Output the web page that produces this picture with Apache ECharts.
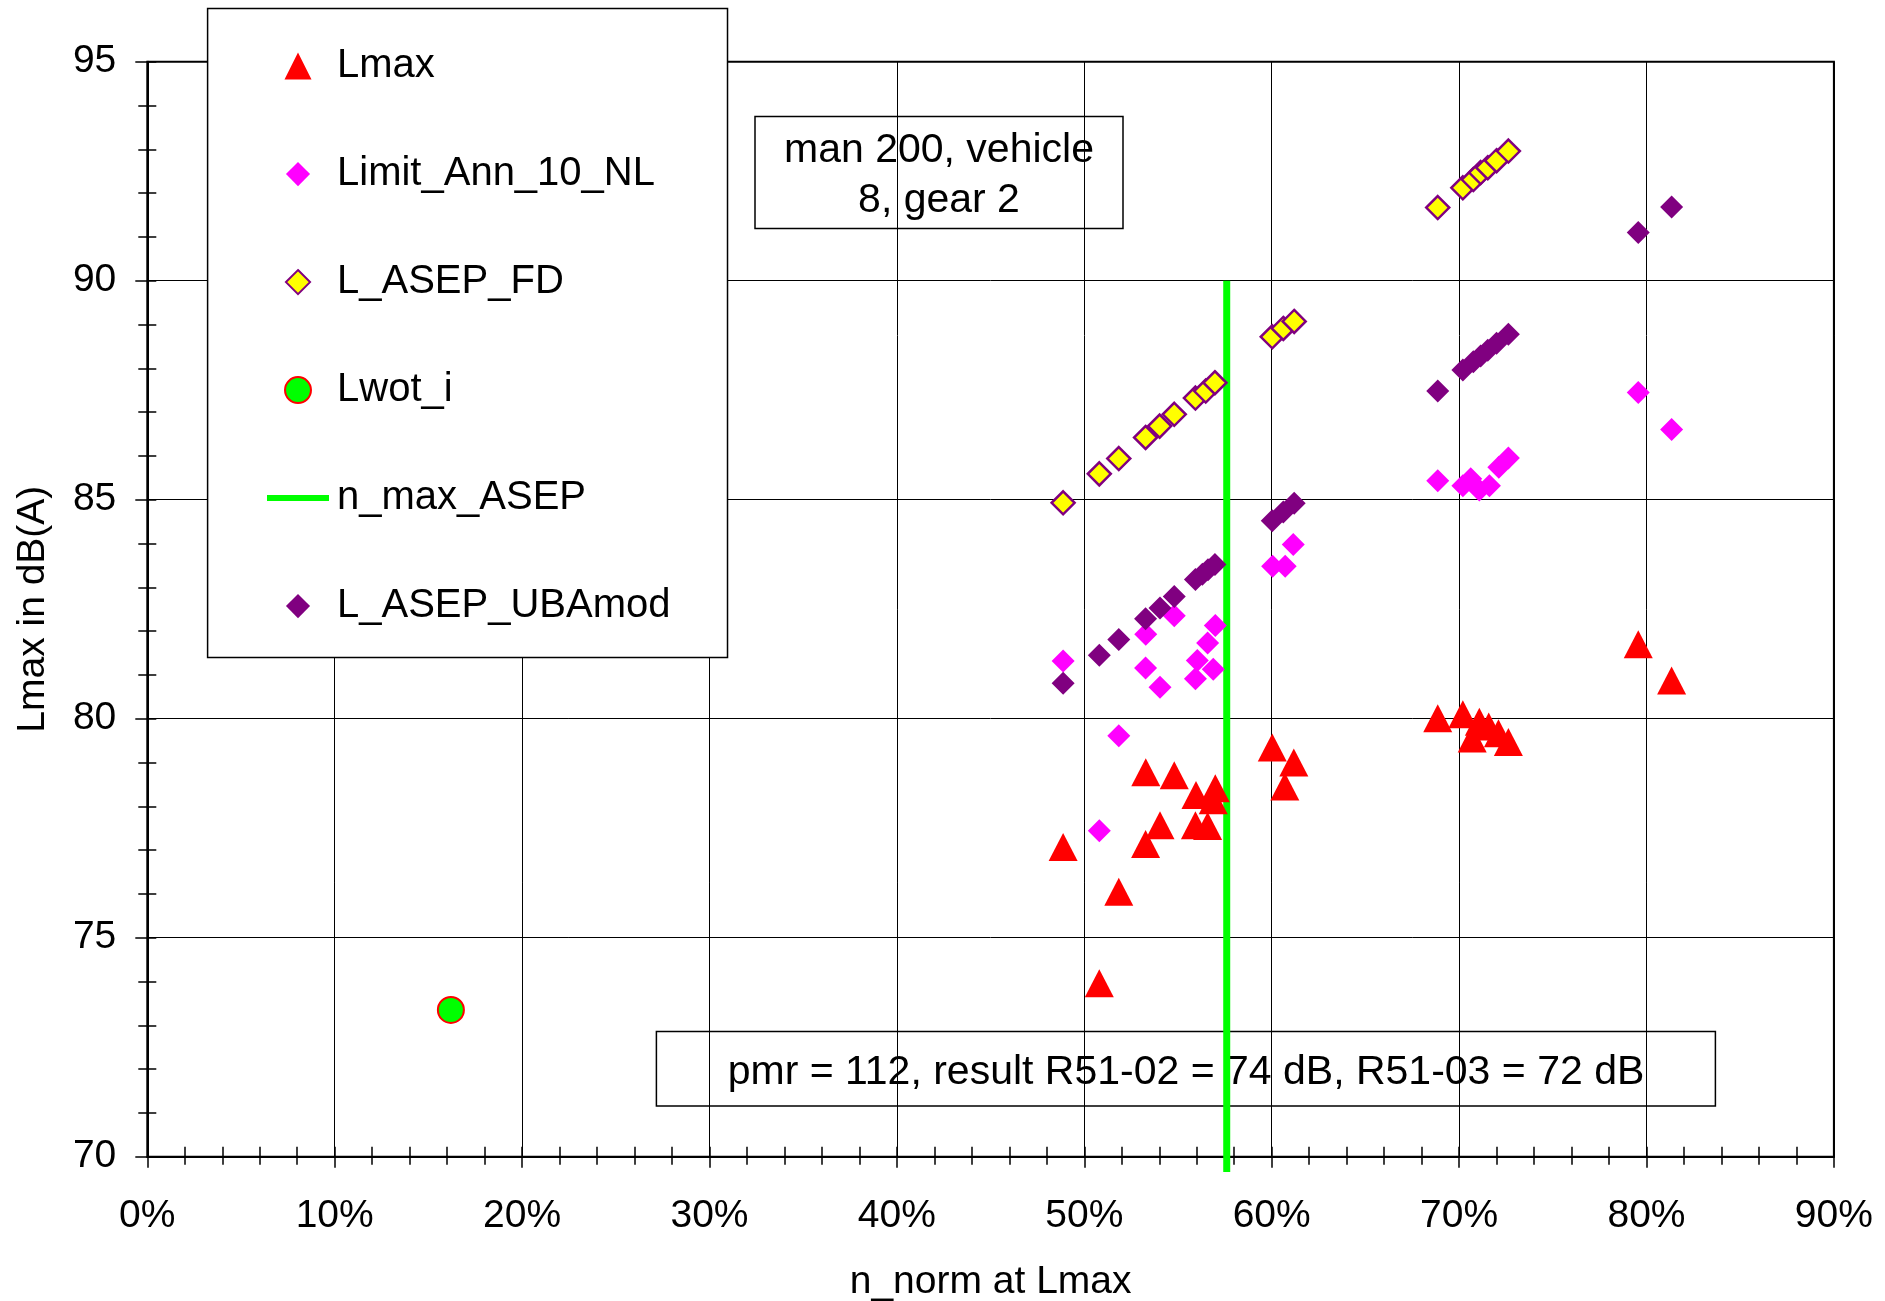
<!DOCTYPE html>
<html>
<head>
<meta charset="utf-8">
<script src="https://cdn.jsdelivr.net/npm/echarts@6/dist/echarts.min.js"></script>
<style>
  html, body { margin: 0; padding: 0; background: #fff; }
  #chart { width: 1885px; height: 1301px; }
</style>
</head>
<body>
<div id="chart"></div>
<script>
// Measured runs: n_norm at Lmax (%) and levels in dB(A)
const lmaxX = [48.87, 50.8, 51.84, 53.27, 53.28, 54.04, 54.8, 55.93, 55.96, 56.58, 56.88, 56.99,
               60.03, 60.7, 61.18, 68.86, 70.2, 70.7, 71.08, 71.58, 72.1, 72.63, 79.56, 81.34];
const lmaxY = [77.07, 73.96, 76.05, 77.14, 78.78, 77.57, 78.71, 77.57, 78.26, 77.55, 78.14, 78.41,
               79.34, 78.45, 79.0, 80.01, 80.1, 79.55, 79.93, 79.82, 79.67, 79.47, 81.7, 80.87];

const limitX = [48.87, 50.8, 51.84, 53.27, 53.28, 54.04, 54.8, 55.93, 56.03, 56.58, 56.88, 56.99,
                60.05, 60.72, 61.15, 68.86, 70.2, 70.62, 71.08, 71.62, 72.12, 72.63, 79.56, 81.34];
const limitY = [81.32, 77.44, 79.61, 81.16, 81.93, 80.72, 82.35, 80.91, 81.33, 81.73, 81.13, 82.13,
                83.48, 83.48, 83.98, 85.43, 85.32, 85.48, 85.22, 85.32, 85.74, 85.95, 87.45, 86.6];

const fdX = [48.87, 50.8, 51.84, 53.27, 54.02, 54.8, 55.93, 56.48, 56.97,
             60.03, 60.62, 61.2, 68.86, 70.2, 70.76, 71.15, 71.53, 72.0, 72.63];
const fdY = [84.93, 85.59, 85.94, 86.42, 86.68, 86.95, 87.32, 87.48, 87.67,
             88.72, 88.91, 89.07, 91.67, 92.12, 92.31, 92.47, 92.58, 92.74, 92.96];

const ubaX = [48.87, 50.8, 51.84, 53.27, 54.04, 54.8, 55.93, 56.3, 56.6, 56.97,
              60.03, 60.62, 61.2, 68.86, 70.2, 70.76, 71.15, 71.53, 72.0, 72.63, 79.56, 81.34];
const ubaY = [80.81, 81.45, 81.81, 82.28, 82.53, 82.79, 83.18, 83.3, 83.4, 83.52,
              84.52, 84.72, 84.92, 87.48, 87.96, 88.15, 88.28, 88.41, 88.57, 88.78, 91.1, 91.68];

const wotX = [16.2];
const wotY = [73.35];

const nMaxX = [57.6, 57.6];
const nMaxY = [90, 69.65];

const seriesNames = ['Lmax', 'Limit_Ann_10_NL', 'L_ASEP_FD', 'Lwot_i', 'n_max_ASEP', 'L_ASEP_UBAmod'];
const xTicks = { min: 0, max: 90, step: 10 };
const yTicks = { min: 70, max: 95, step: 5 };
const noteTop = ['man 200, vehicle', '8, gear 2'];
const noteBottom = 'pmr = 112, result R51-02 = 74 dB, R51-03 = 72 dB';

const pairs = (xs, ys) => xs.map((x, i) => [x, ys[i]]);

const FONT = '"Liberation Sans", Arial, Helvetica, sans-serif';

// Legend glyphs: outer moveTo points pad the bounds so each glyph keeps its own size in the icon box
const ICON_TRIANGLE = 'path://M0,-1L1,1L-1,1Z';
const ICON_DIAMOND = 'path://M-1.12,-1.12M0,-1L1,0L0,1L-1,0ZM1.12,1.12';
const ICON_CIRCLE = 'path://M-1.04,-1.04M-1,0A1,1,0,1,1,1,0A1,1,0,1,1,-1,0ZM1.04,1.04';
const ICON_LINE = 'path://M-3,0M0,0H62V6H0ZM65,6';

const chart = echarts.init(document.getElementById('chart'), null, { renderer: 'canvas' });

const grid = { left: 147.3, right: 51.1, top: 61.7, bottom: 144.3, show: true,
  borderColor: '#000', borderWidth: 2, backgroundColor: '#fff', outerBoundsMode: 'none', containLabel: false };

const tickLine = { color: '#000', width: 1.5 };

const option = {
  backgroundColor: '#fff',
  animation: false,
  textStyle: { fontFamily: FONT },
  grid: grid,
  legend: {
    orient: 'vertical',
    left: 207.6,
    top: 8.6,
    padding: [37.5, 57, 31.5, 56.4],
    itemWidth: 68,
    itemHeight: 27,
    itemGap: 68,
    symbolKeepAspect: true,
    backgroundColor: '#fff',
    borderColor: '#000',
    borderWidth: 1.5,
    selectedMode: false,
    textStyle: { fontSize: 40, lineHeight: 40, color: '#000', fontFamily: FONT },
    data: [
      { name: seriesNames[0], icon: ICON_TRIANGLE },
      { name: seriesNames[1], icon: ICON_DIAMOND },
      { name: seriesNames[2], icon: ICON_DIAMOND },
      { name: seriesNames[3], icon: ICON_CIRCLE },
      { name: seriesNames[4], icon: ICON_LINE },
      { name: seriesNames[5], icon: ICON_DIAMOND }
    ]
  },
  xAxis: [
    {
      type: 'value', min: xTicks.min, max: xTicks.max, interval: xTicks.step, position: 'bottom',
      axisLine: { show: true, onZero: false, lineStyle: { color: '#000', width: 2 } },
      axisTick: { show: true, length: 11, lineStyle: tickLine },
      minorTick: { show: true, splitNumber: 5, length: 8, lineStyle: tickLine },
      splitLine: { show: true, lineStyle: { color: '#000', width: 1 } },
      axisLabel: { formatter: '{value}%', fontSize: 39, color: '#000', margin: 40, fontFamily: FONT },
      name: 'n_norm at Lmax', nameLocation: 'middle', nameGap: 106,
      nameTextStyle: { fontSize: 39, color: '#000', fontFamily: FONT }
    },
    {
      type: 'value', min: xTicks.min, max: xTicks.max, interval: xTicks.step, position: 'bottom',
      axisLine: { show: false },
      axisTick: { show: true, inside: true, length: 10, lineStyle: tickLine },
      minorTick: { show: true, splitNumber: 5, length: 10, lineStyle: tickLine },
      splitLine: { show: false },
      axisLabel: { show: false }
    }
  ],
  yAxis: [
    {
      type: 'value', min: yTicks.min, max: yTicks.max, interval: yTicks.step, position: 'left',
      axisLine: { show: true, onZero: false, lineStyle: { color: '#000', width: 2 } },
      axisTick: { show: true, length: 12, lineStyle: tickLine },
      minorTick: { show: true, splitNumber: 5, length: 9, lineStyle: tickLine },
      splitLine: { show: true, lineStyle: { color: '#000', width: 1 } },
      axisLabel: { fontSize: 39, color: '#000', margin: 31, fontFamily: FONT },
      name: 'Lmax in dB(A)', nameLocation: 'middle', nameGap: 95,
      nameTextStyle: { fontSize: 39, color: '#000', fontFamily: FONT }
    },
    {
      type: 'value', min: yTicks.min, max: yTicks.max, interval: yTicks.step, position: 'left',
      axisLine: { show: false },
      axisTick: { show: true, inside: true, length: 9, lineStyle: tickLine },
      minorTick: { show: true, splitNumber: 5, length: 9, lineStyle: tickLine },
      splitLine: { show: false },
      axisLabel: { show: false }
    }
  ],
  series: [
    {
      name: seriesNames[4], type: 'line', z: 1, clip: false, symbol: 'none',
      data: pairs(nMaxX, nMaxY),
      lineStyle: { color: '#00ff00', width: 7, cap: 'butt' },
      itemStyle: { color: '#00ff00' }
    },
    {
      name: seriesNames[0], type: 'scatter', z: 2, symbol: 'triangle', symbolSize: [29, 28],
      data: pairs(lmaxX, lmaxY),
      itemStyle: { color: '#ff0000', opacity: 1 }
    },
    {
      name: seriesNames[1], type: 'scatter', z: 3, symbol: 'diamond', symbolSize: 23,
      data: pairs(limitX, limitY),
      itemStyle: { color: '#ff00ff', opacity: 1 }
    },
    {
      name: seriesNames[2], type: 'scatter', z: 4, symbol: 'diamond', symbolSize: 23,
      data: pairs(fdX, fdY),
      itemStyle: { color: '#ffff00', borderColor: '#800080', borderWidth: 2.5, opacity: 1 }
    },
    {
      name: seriesNames[3], type: 'scatter', z: 5, symbol: 'circle', symbolSize: 26,
      data: pairs(wotX, wotY),
      itemStyle: { color: '#00ff00', borderColor: '#ff0000', borderWidth: 2, opacity: 1 }
    },
    {
      name: seriesNames[5], type: 'scatter', z: 6, symbol: 'diamond', symbolSize: 23,
      data: pairs(ubaX, ubaY),
      itemStyle: { color: '#800080', opacity: 1 }
    }
  ],
  graphic: [
    {
      type: 'group', z: 100,
      children: [
        { type: 'rect', shape: { x: 755, y: 116.6, width: 368, height: 112 },
          style: { fill: '#fff', stroke: '#000', lineWidth: 1.5 } },
        { type: 'text', x: 939, y: 175.5,
          style: { text: noteTop.join('\n'), fontSize: 41, fontFamily: FONT, fill: '#000',
                   lineHeight: 50, align: 'center', verticalAlign: 'middle',
                   textAlign: 'center', textVerticalAlign: 'middle' } }
      ]
    },
    {
      type: 'group', z: 100,
      children: [
        { type: 'rect', shape: { x: 656.4, y: 1031.5, width: 1059, height: 74.5 },
          style: { fill: '#fff', stroke: '#000', lineWidth: 1.5 } },
        { type: 'text', x: 1186, y: 1072.5,
          style: { text: noteBottom, fontSize: 41, fontFamily: FONT, fill: '#000',
                   align: 'center', verticalAlign: 'middle',
                   textAlign: 'center', textVerticalAlign: 'middle' } }
      ]
    }
  ]
};

chart.setOption(option);
</script>
</body>
</html>
